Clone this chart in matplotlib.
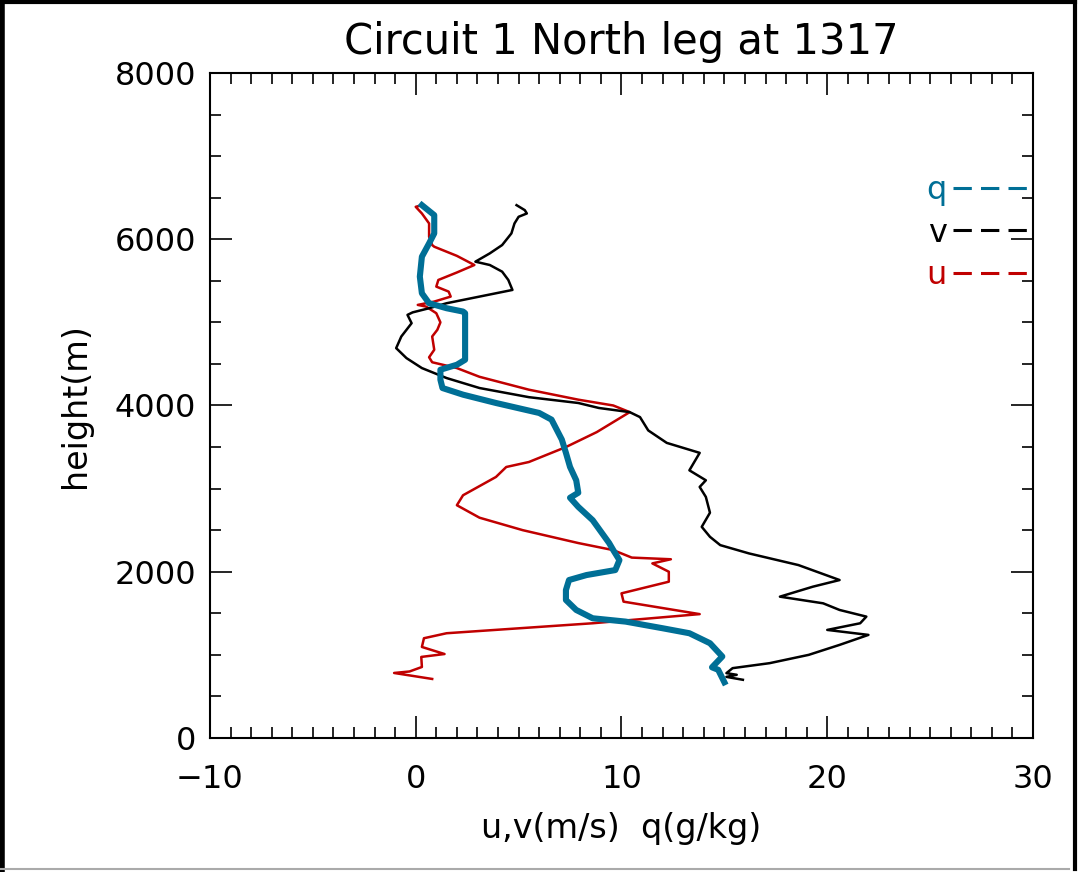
import numpy as np
import matplotlib
matplotlib.use('Agg')
import matplotlib.pyplot as plt
from matplotlib.lines import Line2D

# profile heights (m) and values along the north leg
u_height = [710, 782, 800, 854, 975, 1010, 1095, 1200, 1260, 1380, 1490, 1640, 1740, 1880, 2000,
            2100, 2150, 2170, 2260, 2345, 2500, 2650, 2800, 2920, 3140, 3260, 3320, 3500, 3680, 3920,
            4000, 4070, 4190, 4345, 4450, 4520, 4580, 4670, 4830, 4910, 5000, 5110, 5190, 5210, 5250,
            5310, 5370, 5430, 5510, 5600, 5690, 5800, 5910, 5930, 6030, 6190, 6310, 6390, 6410]
u_wind = [0.8, -1.05, -0.3, 0.3, 0.27, 1.4, 0.3, 0.4, 1.5, 8.6, 13.8, 10.1, 10.0, 12.3, 12.3,
          11.5, 12.4, 10.5, 9.6, 7.9, 5.2, 3.1, 2.0, 2.3, 3.9, 4.4, 5.5, 7.3, 8.8, 10.4,
          9.6, 7.9, 5.5, 3.1, 2.0, 0.8, 0.65, 0.9, 0.8, 1.05, 1.2, 1.0, 0.5, 0.1, 0.9,
          1.7, 1.6, 1.0, 1.1, 2.0, 2.85, 2.0, 0.9, 0.8, 0.65, 0.65, 0.3, 0.0, 0.3]

v_height = [700, 735, 760, 780, 840, 900, 1000, 1120, 1240, 1300, 1380, 1460, 1540, 1620, 1700,
            1820, 1900, 2080, 2220, 2320, 2420, 2540, 2710, 2900, 3020, 3100, 3220, 3430, 3550, 3700,
            3860, 3920, 3970, 4030, 4100, 4210, 4330, 4450, 4570, 4690, 4830, 4910, 4990, 5090, 5120,
            5170, 5230, 5310, 5390, 5510, 5610, 5690, 5730, 5830, 5930, 6070, 6190, 6270, 6310, 6350, 6410]
v_wind = [15.9, 15.1, 15.6, 15.1, 15.4, 17.2, 19.1, 20.6, 22.0, 20.0, 21.6, 21.9, 20.6, 19.8, 17.7,
          19.3, 20.6, 18.6, 16.2, 14.8, 14.3, 13.9, 14.3, 14.1, 13.8, 14.1, 13.3, 13.8, 12.2, 11.3,
          10.9, 10.4, 8.9, 7.9, 5.5, 3.1, 1.5, 0.3, -0.45, -0.95, -0.7, -0.45, -0.2, -0.4, -0.15,
          0.65, 1.5, 3.1, 4.7, 4.5, 4.2, 3.6, 2.9, 3.6, 4.2, 4.65, 4.8, 5.0, 5.4, 5.3, 4.9]

q_height = [670, 820, 850, 980, 1140, 1260, 1320, 1400, 1440, 1540, 1660, 1780, 1900, 1960, 2020,
            2140, 2260, 2345, 2620, 2780, 2890, 2950, 3100, 3260, 3430, 3590, 3830, 3910, 4030, 4130,
            4210, 4310, 4430, 4490, 4550, 4870, 5110, 5130, 5170, 5230, 5350, 5550, 5790, 5950, 6070,
            6290, 6370, 6410]
q_mix = [15.0, 14.7, 14.4, 14.9, 14.3, 13.3, 12.0, 10.2, 8.6, 7.8, 7.3, 7.3, 7.45, 8.3, 9.7,
         9.9, 9.6, 9.4, 8.6, 7.9, 7.5, 7.9, 7.8, 7.5, 7.3, 7.1, 6.6, 6.0, 3.9, 2.3,
         1.3, 1.2, 1.2, 2.0, 2.4, 2.4, 2.4, 2.3, 1.5, 0.65, 0.3, 0.2, 0.3, 0.65, 0.9,
         0.9, 0.5, 0.3]

red = '#c00000'
teal = '#006f96'

plt.rcParams['font.family'] = 'DejaVu Sans'
fig = plt.figure(figsize=(10.8, 8.72), dpi=100)
ax = fig.add_axes([0.1944, 0.1537, 0.7621, 0.7626])

ax.plot(u_wind, u_height, color=red, lw=1.8)
ax.plot(v_wind, v_height, color='black', lw=1.8)
ax.plot(q_mix, q_height, color=teal, lw=4.4)

ax.set_xlim(-10, 30)
ax.set_ylim(0, 8000)
ax.set_xticks(np.arange(-10, 31, 10))
ax.set_xticks(np.arange(-10, 31, 1), minor=True)
ax.set_yticks(np.arange(0, 8001, 2000))
ax.set_yticks(np.arange(0, 8001, 500), minor=True)
ax.tick_params(which='both', direction='in', top=True, right=True, width=1.2, labelsize=23)
ax.tick_params(which='major', length=16)
ax.tick_params(which='minor', length=8)
ax.tick_params(axis='x', pad=19)
ax.tick_params(axis='y', pad=10)
for s in ax.spines.values():
    s.set_linewidth(1.5)

ax.set_xlabel('u,v(m/s)  q(g/kg)', fontsize=24, labelpad=12)
ax.set_ylabel('height(m)', fontsize=24, labelpad=16)
ax.set_title('Circuit 1 North leg at 1317', fontsize=30, pad=14)

handles = [Line2D([], [], color=teal, lw=2.2, ls=(0, (6, 3))),
           Line2D([], [], color='black', lw=2.2, ls=(0, (6, 3))),
           Line2D([], [], color=red, lw=2.2, ls=(0, (6, 3)))]
ax.legend(handles, ['q', 'v', 'u'], loc='upper right', bbox_to_anchor=(1.0, 0.847),
          frameon=False, markerfirst=False, labelcolor='linecolor', fontsize=23,
          handlelength=2.5, handletextpad=0.2, labelspacing=0.37, borderpad=0, borderaxespad=0)

# outer frame of the window
fig.add_artist(Line2D([0.002, 0.002], [0, 1], color='black', lw=4, transform=fig.transFigure))
fig.add_artist(Line2D([0, 0.995], [0.998, 0.998], color='black', lw=3, transform=fig.transFigure))
fig.add_artist(Line2D([0.995, 0.995], [0.004, 1], color='black', lw=3, transform=fig.transFigure))
fig.add_artist(Line2D([0, 0.99], [0.004, 0.004], color='#aaaaaa', lw=1.5, transform=fig.transFigure))

fig.savefig('out.png', dpi=100)
